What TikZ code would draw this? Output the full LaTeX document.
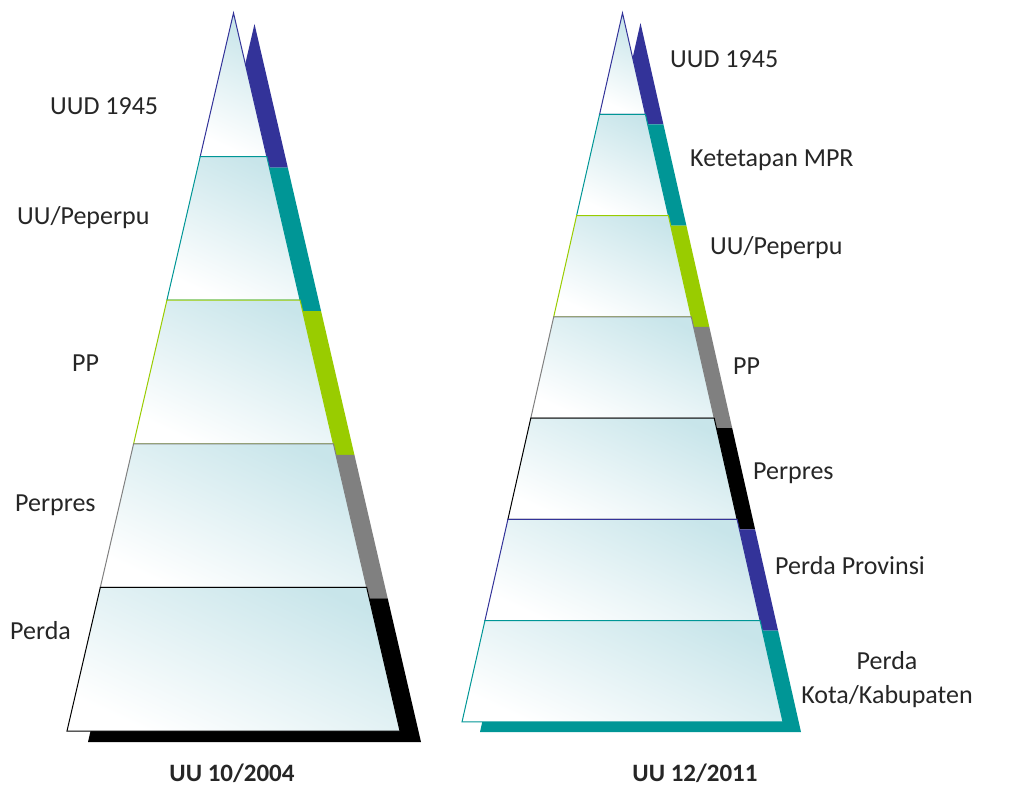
\documentclass[tikz,border=0pt]{standalone}
\usepackage{fontspec}
\setmainfont{Carlito}
\usepackage{xcolor}
\definecolor{uublue}{RGB}{51,51,153}
\definecolor{uuteal}{RGB}{0,150,150}
\definecolor{uugreen}{RGB}{153,204,0}
\definecolor{uugray}{RGB}{128,128,128}
\definecolor{glass}{RGB}{200,229,234}
\usepackage{tikz}
\usetikzlibrary{calc}
\tikzstyle{face} = [
    top color=glass, bottom color=white, shading angle=-25,
    line width=1pt,
]
\tikzstyle{label} = [anchor=base west, inner sep=0pt, text=black!85, font=\fontsize{26}{34}\selectfont]
\tikzstyle{title} = [anchor=base, inner sep=0pt, text=black!85, font=\fontsize{25}{30}\selectfont\bfseries]

\begin{document}
\begin{tikzpicture}[x=1pt,y=1pt]
    \useasboundingbox (0,0) rectangle (1033,787);

    % UU 10/2004
    \fill[uublue, shift={(21,-11)}] (233.5,774) -- (200.2,630.4) -- (266.8,630.4) -- cycle;
    \draw[face, draw=uublue] (233.5,774) -- (200.2,630.4) -- (266.8,630.4) -- cycle;
    \fill[uuteal, shift={(21,-11)}] (200.2,630.4) -- (166.9,486.8) -- (300.1,486.8) -- (266.8,630.4) -- cycle;
    \draw[face, draw=uuteal] (200.2,630.4) -- (166.9,486.8) -- (300.1,486.8) -- (266.8,630.4) -- cycle;
    \fill[uugreen, shift={(21,-11)}] (166.9,486.8) -- (133.6,343.2) -- (333.4,343.2) -- (300.1,486.8) -- cycle;
    \draw[face, draw=uugreen] (166.9,486.8) -- (133.6,343.2) -- (333.4,343.2) -- (300.1,486.8) -- cycle;
    \fill[uugray, shift={(21,-11)}] (133.6,343.2) -- (100.3,199.6) -- (366.7,199.6) -- (333.4,343.2) -- cycle;
    \draw[face, draw=uugray] (133.6,343.2) -- (100.3,199.6) -- (366.7,199.6) -- (333.4,343.2) -- cycle;
    \fill[black, shift={(21,-11)}] (100.3,199.6) -- (67,56) -- (400,56) -- (366.7,199.6) -- cycle;
    \draw[face, draw=black] (100.3,199.6) -- (67,56) -- (400,56) -- (366.7,199.6) -- cycle;

    \node (l-uud) at (50,672) [label] {UUD 1945};
    \node (l-uu) at (17,562) [label] {UU/Peperpu};
    \node (l-pp) at (72,415) [label] {PP};
    \node (l-perpres) at (15,275) [label] {Perpres};
    \node (l-perda) at (10,147) [label] {Perda};
    \node (l-title) at (232,6) [title] {UU 10/2004};

    % UU 12/2011
    \fill[uublue, shift={(18,-10)}] (622.5,774) -- (599.6,672.7) -- (645.4,672.7) -- cycle;
    \draw[face, draw=uublue] (622.5,774) -- (599.6,672.7) -- (645.4,672.7) -- cycle;
    \fill[uuteal, shift={(18,-10)}] (599.6,672.7) -- (576.6,571.4) -- (668.4,571.4) -- (645.4,672.7) -- cycle;
    \draw[face, draw=uuteal] (599.6,672.7) -- (576.6,571.4) -- (668.4,571.4) -- (645.4,672.7) -- cycle;
    \fill[uugreen, shift={(18,-10)}] (576.6,571.4) -- (553.7,470.1) -- (691.3,470.1) -- (668.4,571.4) -- cycle;
    \draw[face, draw=uugreen] (576.6,571.4) -- (553.7,470.1) -- (691.3,470.1) -- (668.4,571.4) -- cycle;
    \fill[uugray, shift={(18,-10)}] (553.7,470.1) -- (530.8,368.9) -- (714.2,368.9) -- (691.3,470.1) -- cycle;
    \draw[face, draw=uugray] (553.7,470.1) -- (530.8,368.9) -- (714.2,368.9) -- (691.3,470.1) -- cycle;
    \fill[black, shift={(18,-10)}] (530.8,368.9) -- (507.9,267.6) -- (737.1,267.6) -- (714.2,368.9) -- cycle;
    \draw[face, draw=black] (530.8,368.9) -- (507.9,267.6) -- (737.1,267.6) -- (714.2,368.9) -- cycle;
    \fill[uublue, shift={(18,-10)}] (507.9,267.6) -- (484.9,166.3) -- (760.1,166.3) -- (737.1,267.6) -- cycle;
    \draw[face, draw=uublue] (507.9,267.6) -- (484.9,166.3) -- (760.1,166.3) -- (737.1,267.6) -- cycle;
    \fill[uuteal, shift={(18,-10)}] (484.9,166.3) -- (462,65) -- (783,65) -- (760.1,166.3) -- cycle;
    \draw[face, draw=uuteal] (484.9,166.3) -- (462,65) -- (783,65) -- (760.1,166.3) -- cycle;

    \node (r-uud) at (670,719) [label] {UUD 1945};
    \node (r-mpr) at (690,620) [label] {Ketetapan MPR};
    \node (r-uu) at (710,532) [label] {UU/Peperpu};
    \node (r-pp) at (733,412) [label] {PP};
    \node (r-perpres) at (753,307) [label] {Perpres};
    \node (r-prov) at (775,212) [label] {Perda Provinsi};
    \node (r-kota) at (887,107) [label, anchor=center, align=center] {Perda\\Kota/Kabupaten};
    \node (r-title) at (695,6) [title] {UU 12/2011};

\end{tikzpicture}
\end{document}
